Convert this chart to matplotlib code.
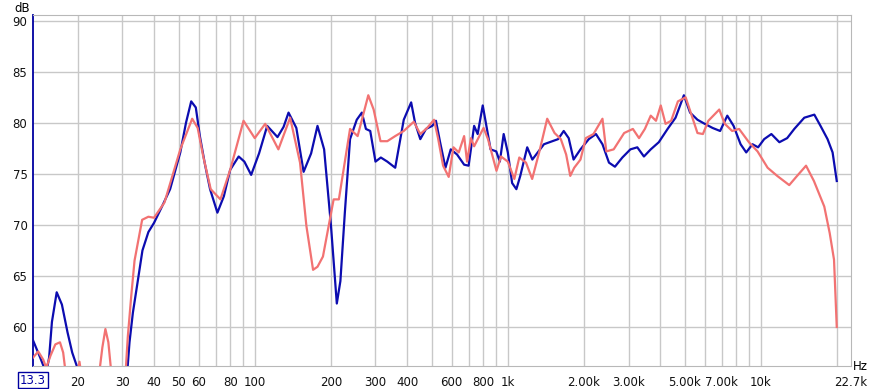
import numpy as np
import matplotlib.pyplot as plt

# blue trace (Hz, dB)
blue_f = [13.3, 14.2, 15.0, 15.4, 15.8, 16.5, 17.3, 18.2, 19.0, 19.8, 21, 25, 29, 31,
          32, 33, 34.5, 36, 38, 40, 43, 46.3, 50.8, 53.5, 56.1, 58.5, 60.7, 63.5, 66.6,
          71.2, 75.5, 80, 86.4, 91, 96.8, 104, 112, 123, 130, 136, 146, 156, 167, 177,
          188, 200, 211, 218, 227, 238, 253, 265, 275, 286, 300, 315, 334, 359, 388,
          415, 430, 451, 475, 503, 520, 540, 567, 595, 630, 672, 700, 736, 760, 796,
          855, 900, 930, 963, 1000, 1040, 1081, 1120, 1193, 1250, 1389, 1500, 1580,
          1663, 1740, 1819, 1937, 2089, 2230, 2366, 2510, 2650, 2835, 3050, 3248, 3450,
          3671, 3950, 4279, 4600, 4962, 5250, 5615, 6000, 6439, 6900, 7366, 7800, 8314,
          8750, 9264, 9750, 10300, 11000, 11830, 12700, 13550, 14840, 16260, 17200,
          18340, 19200, 19940]
blue_db = [58.7, 57.0, 55.5, 57.0, 60.5, 63.4, 62.2, 59.5, 57.5, 56.2, 53.5, 50.0, 50.0, 54.0,
           58.5, 61.4, 64.5, 67.5, 69.3, 70.2, 71.8, 73.5, 77.1, 80.0, 82.1, 81.5, 78.7, 76.0, 73.5,
           71.2, 72.8, 75.4, 76.7, 76.2, 74.9, 77.0, 79.7, 78.6, 79.6, 81.0, 79.5, 75.2, 77.0, 79.7,
           77.4, 70.0, 62.3, 64.5, 71.2, 78.4, 80.3, 81.0, 79.4, 79.2, 76.2, 76.6, 76.2, 75.6, 80.3,
           82.0, 80.0, 78.4, 79.4, 79.7, 80.2, 78.1, 75.6, 77.4, 76.9, 75.9, 75.8, 79.7, 78.9, 81.7,
           77.4, 77.2, 76.2, 78.9, 77.1, 74.1, 73.5, 74.8, 77.6, 76.4, 77.9, 78.2, 78.4,
           79.2, 78.5, 76.4, 77.4, 78.4, 78.9, 77.9, 76.1, 75.7, 76.6, 77.4, 77.6, 76.7,
           77.4, 78.1, 79.4, 80.5, 82.7, 81.0, 80.3, 79.9, 79.5, 79.2, 80.7, 79.7, 77.9,
           77.1, 77.9, 77.6, 78.4, 78.9, 78.1, 78.5, 79.4, 80.5, 80.8, 79.7,
           78.4, 77.1, 74.3]

# red trace (Hz, dB)
red_f = [13.3, 13.95, 14.6, 15.0, 15.6, 16.3, 17.0, 17.5, 17.9, 19.0, 20.0, 20.3, 20.6,
         22, 24.3, 25.0, 25.7, 26.4, 27.0, 29, 30.7, 31.5, 32.5, 33.5, 35.9, 38, 40,
         44, 50.8, 56.6, 59.5, 62.6, 67, 73.2, 80, 90.3, 100, 110, 124, 138, 151, 160,
         170, 177, 186, 198, 205, 215, 238, 255, 281, 295, 314, 334, 359, 388, 425,
         451, 480, 511, 530, 555, 584, 610, 640, 672, 690, 715, 736, 802, 835, 902,
         940, 1000, 1061, 1110, 1180, 1248, 1330, 1431, 1530, 1620, 1700, 1765, 1830,
         1937, 2033, 2180, 2366, 2450, 2620, 2882, 3120, 3300, 3480, 3671, 3850, 4021,
         4200, 4420, 4700, 5042, 5330, 5615, 5900, 6200, 6846, 7200, 7700, 8200, 8967,
         9700, 10630, 11600, 12940, 13900, 15080, 16200, 17800, 18700, 19450, 19940]
red_db = [57.0, 57.6, 56.8, 56.0, 57.2, 58.3, 58.5, 57.5, 55.5, 54.0, 55.8, 56.6, 55.5,
          52.0, 55.5, 58.0, 59.8, 58.5, 56.0, 52.0, 54.5, 59.0, 63.0, 66.5, 70.5, 70.8, 70.7,
          72.2, 77.4, 80.4, 79.5, 76.7, 73.5, 72.5, 75.4, 80.2, 78.5, 79.9, 77.4, 80.5, 76.1, 69.9,
          65.6, 65.9, 66.9, 70.5, 72.5, 72.5, 79.4, 78.7, 82.7, 81.3, 78.2, 78.2, 78.7, 79.2, 80.1,
          78.9, 79.5, 80.3, 78.5, 75.8, 74.7, 77.6, 77.1, 78.7, 76.2, 78.5, 77.7, 79.5, 78.4, 75.3,
          76.7, 76.2, 74.5, 76.6, 76.1, 74.5, 77.1, 80.4, 79.0, 78.4, 76.9, 74.8, 75.6,
          76.4, 78.5, 78.9, 80.4, 77.2, 77.4, 79.0, 79.4, 78.5, 79.4, 80.7, 80.2, 81.7,
          79.9, 80.2, 82.1, 82.5, 80.7, 79.0, 78.9, 80.2, 81.3, 79.9, 79.2, 79.4, 78.1,
          77.2, 75.6, 74.8, 73.9, 74.8, 75.8, 74.3, 71.8, 69.2, 66.6, 60.0]

major_ticks = [20, 30, 40, 50, 60, 80, 100, 200, 300, 400, 600, 800, 1000,
               2000, 3000, 5000, 7000, 10000, 22700]
major_labels = ['20', '30', '40', '50', '60', '80', '100', '200', '300', '400', '600',
                '800', '1k', '2.00k', '3.00k', '5.00k', '7.00k', '10k', '22.7k']
grid_f = [20, 30, 40, 50, 60, 70, 80, 90, 100, 200, 300, 400, 500, 600, 700, 800, 900,
          1000, 2000, 3000, 4000, 5000, 6000, 7000, 8000, 9000, 10000, 20000]
y_ticks = [60, 65, 70, 75, 80, 85, 90]

fig = plt.figure(figsize=(8.75, 3.89), dpi=100)
ax = fig.add_axes([33 / 875, 23 / 389, 818 / 875, 351 / 389])

for f in grid_f:
    ax.axvline(f, color='#c8c8c8', lw=1, zorder=0)
for y in y_ticks:
    ax.axhline(y, color='#c8c8c8', lw=1, zorder=0)

ax.plot(blue_f, blue_db, color='#0c0cb0', lw=1.6, zorder=3)
ax.plot(red_f, red_db, color='#f27272', lw=1.6, zorder=4)

ax.set_xscale('log')
ax.set_xlim(13.3, 22700)
ax.set_ylim(56.18, 90.56)

ax.set_xticks(major_ticks)
ax.set_xticklabels(major_labels)
ax.xaxis.set_minor_locator(plt.NullLocator())
ax.set_yticks(y_ticks)
ax.tick_params(length=0, labelsize=8.5, colors='#111111', pad=7)
ax.tick_params(axis='y', pad=4)

for side in ['top', 'right', 'bottom']:
    ax.spines[side].set_color('#b8b8b8')
ax.spines['left'].set_color('#0000a0')
ax.spines['left'].set_linewidth(1.3)

fig.text(30 / 875, 1 - 8 / 389, 'dB', ha='right', va='center', fontsize=8.5)
fig.text(853 / 875, 1 - 366 / 389, 'Hz', ha='left', va='center', fontsize=8.5)
fig.text(33 / 875, 1 - 380 / 389, '13.3', ha='center', va='center', fontsize=8.5,
         color='#0000a0',
         bbox=dict(boxstyle='square,pad=0.15', fc='white', ec='#0000a0', lw=1))

fig.savefig('out.png', dpi=100)
